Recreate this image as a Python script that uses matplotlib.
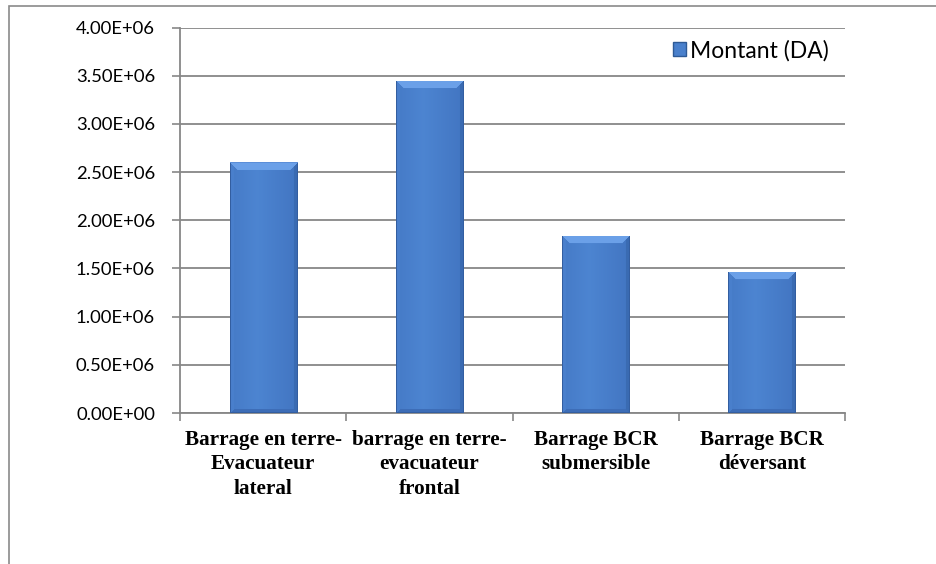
import numpy as np
import matplotlib
matplotlib.use("Agg")
import matplotlib.pyplot as plt
from matplotlib.patches import Rectangle, Patch
from matplotlib.ticker import FixedLocator, FuncFormatter

categories = ["Barrage en terre-\nEvacuateur\nlateral",
              "barrage en terre-\nevacuateur\nfrontal",
              "Barrage BCR\nsubmersible",
              "Barrage BCR\ndéversant"]
values = [2.60e6, 3.45e6, 1.84e6, 1.465e6]
series_name = "Montant (DA)"
yticks = [0, 0.5e6, 1.0e6, 1.5e6, 2.0e6, 2.5e6, 3.0e6, 3.5e6, 4.0e6]


def fmt_sci(v, p=None):
    if v == 0:
        return "0.00E+00"
    return "{:.2f}E+06".format(v / 1e6)


W, H = 936, 564
fig = plt.figure(figsize=(W / 100, H / 100), dpi=100)
ax = fig.add_axes([180 / W, 1 - 413 / H, (845 - 180) / W, (413 - 27.6) / H])

grid_c = "#878787"
x = np.arange(len(categories))
bars = ax.bar(x, values, width=0.404, color="#4A80CC", edgecolor="none", zorder=3)

ax.set_xlim(-0.5, len(categories) - 0.5)
ax.set_ylim(0, 4.0e6)

# shaded (bevelled) look for each bar
px_per_y = (413 - 27.6) / 4.0e6
px_per_x = (845 - 180) / len(categories)
for b in bars:
    bw = b.get_width()
    bh = b.get_height()
    wp = max(int(round(bw * px_per_x)), 4)
    hp = max(int(round(bh * px_per_y)), 4)
    rr, cc = np.mgrid[0:hp, 0:wp]
    dt = rr
    db = hp - 1 - rr
    dl = cc
    dr = wp - 1 - cc
    u = cc / (wp - 1)
    body_light = np.array([0.30, 0.52, 0.82])
    body_dark = np.array([0.26, 0.46, 0.76])
    prof = np.clip(np.abs(u - 0.4) / 0.6, 0, 1)[..., None]
    img = body_light * (1 - prof) + body_dark * prof
    bev = 8
    top_c = np.array([0.42, 0.63, 0.91])
    left_c = np.array([0.29, 0.50, 0.80])
    right_c = np.array([0.23, 0.42, 0.70])
    bot_c = np.array([0.24, 0.43, 0.72])
    dmin = np.minimum(np.minimum(dt, db), np.minimum(dl, dr))
    top_m = (dt < bev) & (dt == dmin)
    side = ~top_m & (np.minimum(dl, dr) < 4) & (np.minimum(dl, dr) <= db)
    bot_m = ~top_m & ~side & (db < 4)
    img[side & (dl <= dr)] = left_c
    img[side & (dr < dl)] = right_c
    img[bot_m] = bot_c
    img[top_m] = top_c
    edge = (dl == 0) | (dr == 0) | (db == 0)
    img[edge] = np.array([0.20, 0.37, 0.63])
    img[dt == 0] = np.array([0.36, 0.56, 0.85])
    bx = b.get_x()
    im = ax.imshow(img, extent=[bx, bx + bw, 0, bh], aspect="auto",
                   interpolation="bilinear", zorder=4, origin="upper")
    im.set_clip_path(b)

ax.set_xlim(-0.5, len(categories) - 0.5)
ax.set_ylim(0, 4.0e6)

# y axis
ax.yaxis.set_major_locator(FixedLocator(yticks))
ax.yaxis.set_major_formatter(FuncFormatter(fmt_sci))
ax.yaxis.grid(True, color=grid_c, linewidth=1.3, zorder=0)
ax.set_axisbelow(True)
ax.tick_params(axis="y", length=6, width=1.2, color=grid_c, pad=12,
               labelsize=13.3, labelcolor="black")
for lab in ax.get_yticklabels():
    lab.set_fontfamily("Lato")

# x axis
ax.set_xticks(x)
ax.set_xticklabels(categories, fontfamily="Liberation Serif", fontweight="bold",
                   fontsize=15.2, linespacing=1.32)
ax.tick_params(axis="x", which="major", length=0, pad=12)
ax.set_xticks(np.arange(-0.5, len(categories), 1.0), minor=True)
ax.tick_params(axis="x", which="minor", length=6, width=1.2, color=grid_c)

for s in ["top", "right"]:
    ax.spines[s].set_visible(False)
for s in ["left", "bottom"]:
    ax.spines[s].set_color(grid_c)
    ax.spines[s].set_linewidth(1.3)

# legend
handle = Patch(facecolor="#4A80CC", edgecolor="#2E5A96", label=series_name)
ax.legend(handles=[handle], loc="upper right", bbox_to_anchor=(1.0, 1.01),
          frameon=False, prop={"family": "Lato", "size": 16.5},
          handlelength=0.55, handleheight=0.55, handletextpad=0.2,
          borderaxespad=0.3)

# outer chart frame
fig.patches.append(Rectangle((9 / W, -0.05), 1.1, 1 - 6 / H + 0.05,
                             transform=fig.transFigure, fill=False,
                             edgecolor="#8a8a8a", linewidth=1.2))

fig.savefig("out.png", dpi=100)
